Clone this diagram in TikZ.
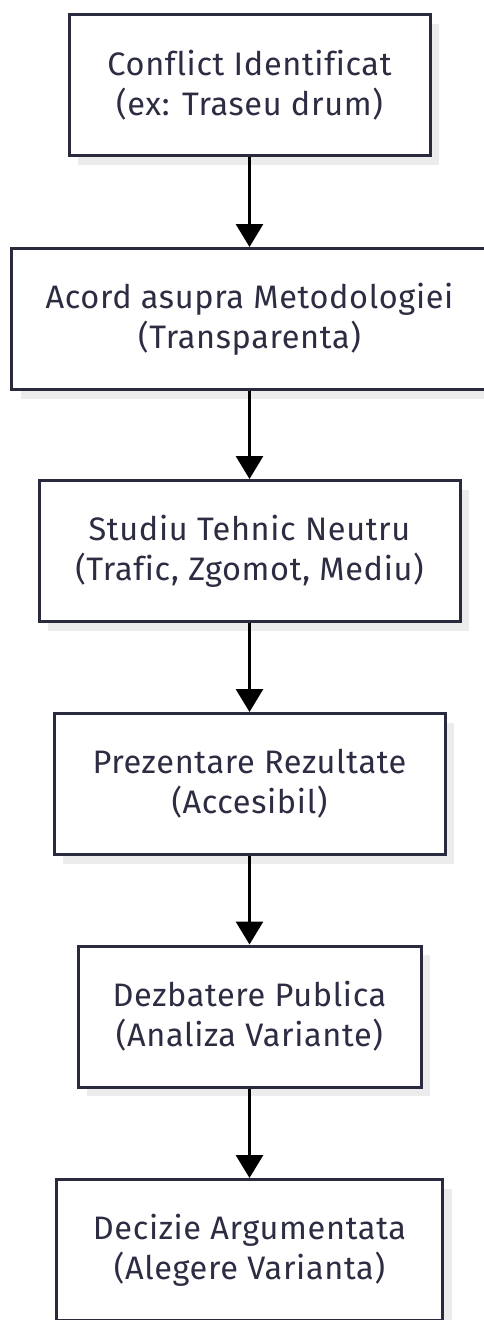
\documentclass[tikz,border=0pt]{standalone}
\usepackage{fontspec}
\setmainfont{Fira Sans}[LetterSpace=2.0,Ligatures={NoCommon}]
\usetikzlibrary{arrows.meta,shadows}
\definecolor{boxline}{RGB}{42,42,62}
\definecolor{boxtext}{RGB}{44,44,66}
\definecolor{shadowgray}{RGB}{236,236,236}
\begin{document}
\begin{tikzpicture}[x=1pt,y=-1pt,
  stepbox/.style={draw=boxline, line width=3pt, fill=white, minimum height=141pt,
    align=center, text=boxtext, inner sep=0pt,
    font=\fontsize{32.5}{40}\selectfont,
    drop shadow={shadow xshift=9pt, shadow yshift=-9pt, fill=shadowgray, opacity=1}},
  flow/.style={draw=black, line width=3pt, -{Triangle[width=27pt,length=23pt]}}]
\useasboundingbox (0,0) rectangle (483,1320);
\node[stepbox, minimum width=361pt] (n1) at (249.5,85) {Conflict Identificat\\(ex: Traseu drum)};
\node[stepbox, minimum width=476pt] (n2) at (249.5,319) {Acord asupra Metodologiei\\(Transparenta)};
\node[stepbox, minimum width=421pt] (n3) at (249.5,551) {Studiu Tehnic Neutru\\(Trafic, Zgomot, Mediu)};
\node[stepbox, minimum width=391pt] (n4) at (249.5,784) {Prezentare Rezultate\\(Accesibil)};
\node[stepbox, minimum width=343pt] (n5) at (249.5,1016.5) {Dezbatere Publica\\(Analiza Variante)};
\node[stepbox, minimum width=386pt] (n6) at (249.5,1250) {Decizie Argumentata\\(Alegere Varianta)};
\draw[flow] (n1.south) -- (n2.north);
\draw[flow] (n2.south) -- (n3.north);
\draw[flow] (n3.south) -- (n4.north);
\draw[flow] (n4.south) -- (n5.north);
\draw[flow] (n5.south) -- (n6.north);
\end{tikzpicture}
\end{document}
